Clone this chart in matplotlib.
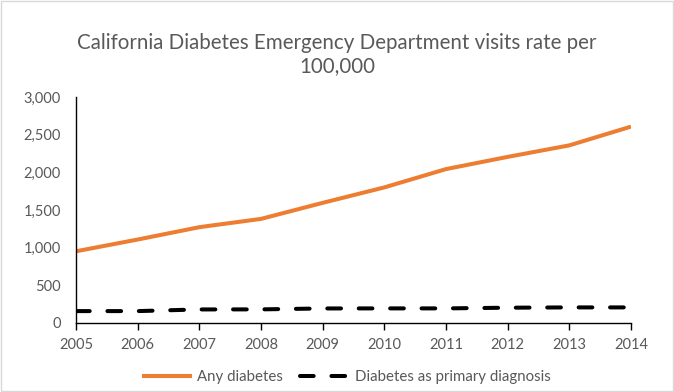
import matplotlib
matplotlib.use("Agg")
import matplotlib.pyplot as plt
from matplotlib.patches import Rectangle

plt.rcParams["font.family"] = ["Lato", "DejaVu Sans"]

# ── data ─────────────────────────────────────────────────────────────────────
years = [2005, 2006, 2007, 2008, 2009, 2010, 2011, 2012, 2013, 2014]
any_diabetes = [952, 1108, 1272, 1382, 1595, 1800, 2043, 2205, 2358, 2607]
primary_dx = [158, 158, 180, 181, 193, 194, 194, 203, 207, 207]

title = "California Diabetes Emergency Department visits rate per\n100,000"
y_ticks = [0, 500, 1000, 1500, 2000, 2500, 3000]

_ORANGE = "#ED7D31"
_TEXT = "#595959"

fig = plt.figure(figsize=(6.74, 3.92), dpi=100)
ax = fig.add_axes([76 / 674, 1 - 323 / 392, 555 / 674, 226 / 392])

ax.plot(years, any_diabetes, color=_ORANGE, lw=2.9, solid_capstyle="butt",
        label="Any diabetes")
ax.plot(years, primary_dx, color="black", lw=2.9, dashes=(3.4, 4.4),
        dash_capstyle="round", label="Diabetes as primary diagnosis")

ax.set_xlim(years[0], years[-1])
ax.set_ylim(0, 3000)
ax.set_xticks(years)
ax.set_yticks(y_ticks)
ax.set_yticklabels([f"{v:,}" for v in y_ticks])

for side in ("top", "right"):
    ax.spines[side].set_visible(False)
for side in ("left", "bottom"):
    ax.spines[side].set_color("black")
    ax.spines[side].set_linewidth(1.0)

ax.tick_params(axis="y", length=0, pad=11, labelsize=10.5, labelcolor=_TEXT)
ax.tick_params(axis="x", length=5, width=1, direction="out", pad=6,
               labelsize=10.5, labelcolor=_TEXT)

fig.text(0.5, 0.917, title, ha="center", va="top", fontsize=14.8,
         color=_TEXT, linespacing=1.25)

fig.legend(loc="center", bbox_to_anchor=(0.514, 0.038), ncol=2, frameon=False,
           fontsize=10.8, labelcolor=_TEXT, handlelength=3.35, handletextpad=0.33,
           columnspacing=1.1)

# chart-area border
fig.add_artist(Rectangle((0.002, 0.003), 0.996, 0.994, transform=fig.transFigure,
                         fill=False, edgecolor="#D9D9D9", lw=1))

fig.savefig("out.png", dpi=100)
